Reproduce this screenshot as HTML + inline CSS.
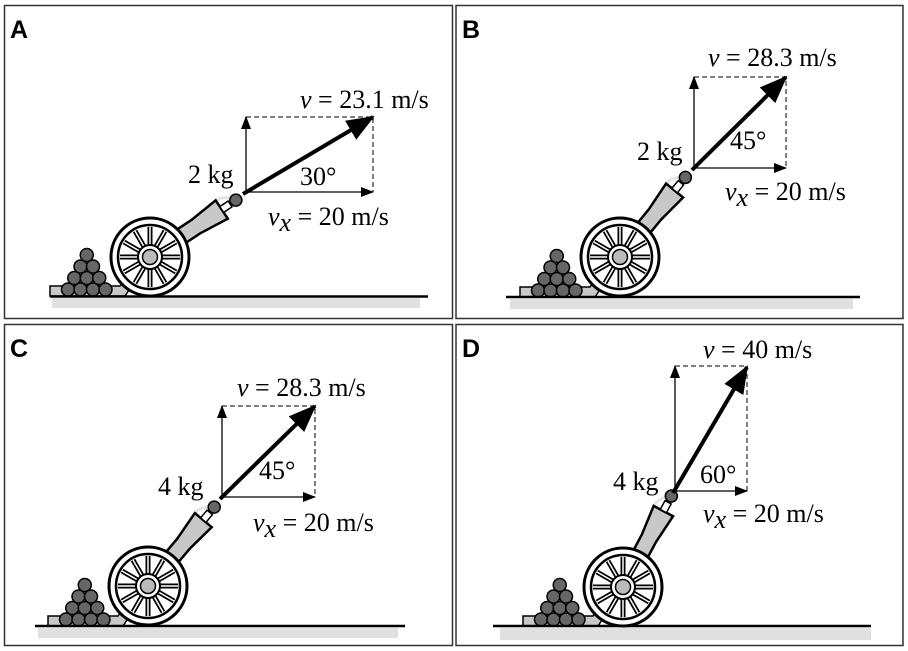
<!DOCTYPE html>
<html><head><meta charset="utf-8"><style>
html,body{margin:0;padding:0;background:#fff;}
svg{display:block;}
.t{font-family:"Liberation Serif",serif;font-size:26px;fill:#000;}
.L{font-family:"Liberation Sans",sans-serif;font-size:25px;font-weight:bold;fill:#000;}
</style></head><body>
<svg width="908" height="651" viewBox="0 0 908 651" xmlns="http://www.w3.org/2000/svg">
<defs>
<marker id="ah" markerWidth="13" markerHeight="10" refX="12" refY="5" orient="auto" markerUnits="userSpaceOnUse">
<path d="M0,0 L13,5 L0,10 Z" fill="#000"/></marker>
<marker id="bh" markerWidth="28" markerHeight="22" refX="26" refY="11" orient="auto" markerUnits="userSpaceOnUse">
<path d="M0,0 L28,11 L0,22 Z" fill="#000"/></marker>
<g id="barrel">
<path d="M-18,-6 C-13,-16 -3,-7 0,-4" fill="none" stroke="#e4e4e4" stroke-width="3" transform="translate(100,0)"/>
<path d="M-30,-8 L55,-8 L86,-11 L86,11 L55,8 L-30,8 Z" fill="#c8c8c8" stroke="#000" stroke-width="2.5"/>
<rect x="86" y="-3.5" width="10" height="7" fill="#fff" stroke="#000" stroke-width="1.5"/>
<circle cx="103" cy="0" r="6" fill="#666" stroke="#000" stroke-width="1.5"/>
</g>
<g id="wheel">
<circle r="39" fill="#fff" stroke="#000" stroke-width="3"/>
<circle r="32" fill="#fff" stroke="#000" stroke-width="2.5"/>
<g stroke="#000" stroke-width="5">
<line x1="-30" y1="0" x2="30" y2="0"/><line x1="0" y1="-30" x2="0" y2="30"/>
<line x1="-26" y1="-15" x2="26" y2="15"/><line x1="-26" y1="15" x2="26" y2="-15"/>
<line x1="-15" y1="-26" x2="15" y2="26"/><line x1="-15" y1="26" x2="15" y2="-26"/>
</g>
<g stroke="#fff" stroke-width="1.5">
<line x1="-30" y1="0" x2="30" y2="0"/><line x1="0" y1="-30" x2="0" y2="30"/>
<line x1="-26" y1="-15" x2="26" y2="15"/><line x1="-26" y1="15" x2="26" y2="-15"/>
<line x1="-15" y1="-26" x2="15" y2="26"/><line x1="-15" y1="26" x2="15" y2="-26"/>
</g>
<circle r="12" fill="#fff" stroke="#000" stroke-width="2"/>
<circle r="7.5" fill="#bbb" stroke="#000" stroke-width="1.5"/>
</g>
<g id="pile">
<path d="M-100,-10 L-70,-10 L-30,-10 L-10,-40 L-5,-30 L-25,0 L-100,0 Z" fill="#c8c8c8" stroke="#000" stroke-width="1.5"/>
<g fill="#666" stroke="#000" stroke-width="1.5">
<circle cx="-82" cy="-6.5" r="6.5"/><circle cx="-69.5" cy="-6.5" r="6.5"/><circle cx="-57" cy="-6.5" r="6.5"/><circle cx="-44.5" cy="-6.5" r="6.5"/>
<circle cx="-75.75" cy="-18" r="6.5"/><circle cx="-63.25" cy="-18" r="6.5"/><circle cx="-50.75" cy="-18" r="6.5"/>
<circle cx="-69.5" cy="-29.5" r="6.5"/><circle cx="-57" cy="-29.5" r="6.5"/>
<circle cx="-63.25" cy="-41" r="6.5"/>
</g>
</g>
</defs>

<g fill="none" stroke="#333" stroke-width="1.5">
<rect x="4.5" y="5.5" width="448" height="313"/>
<rect x="456" y="5.5" width="447" height="313"/>
<rect x="4.5" y="324.5" width="448" height="321"/>
<rect x="456" y="324.5" width="447" height="321"/>
</g>
<text class="L" x="10" y="38">A</text>
<text class="L" x="462" y="38">B</text>
<text class="L" x="10" y="357">C</text>
<text class="L" x="462" y="357">D</text>

<!-- Panel A -->
<rect x="52" y="298" width="368" height="10" fill="#e0e0e0"/>
<use href="#pile" transform="translate(150,296)"/>
<use href="#barrel" transform="translate(150,257) rotate(-33.5)"/>
<use href="#wheel" transform="translate(150,257)"/>
<line x1="50" y1="296.5" x2="428" y2="296.5" stroke="#000" stroke-width="2.5"/>
<path d="M246,117 L373,117 L373,192" fill="none" stroke="#000" stroke-width="1" stroke-dasharray="5,3"/>
<line x1="246" y1="192" x2="246" y2="117" stroke="#000" stroke-width="1.3" marker-end="url(#ah)"/>
<line x1="246" y1="192" x2="373" y2="192" stroke="#000" stroke-width="1.3" marker-end="url(#ah)"/>
<line x1="243" y1="194" x2="373" y2="117" stroke="#000" stroke-width="4" marker-end="url(#bh)"/>
<text class="t" x="300" y="108"><tspan font-style="italic">v</tspan> = 23.1 m/s</text>
<text class="t" x="188" y="183">2 kg</text>
<text class="t" x="300" y="185">30°</text>
<text class="t" x="268" y="225"><tspan font-style="italic">v</tspan><tspan font-style="italic" dy="6">x</tspan><tspan dy="-6"> = 20 m/s</tspan></text>

<!-- Panel B -->
<rect x="510" y="299" width="343" height="10" fill="#e0e0e0"/>
<use href="#pile" transform="translate(620,297)"/>
<use href="#barrel" transform="translate(620,257) rotate(-50.6)"/>
<use href="#wheel" transform="translate(620,257)"/>
<line x1="506" y1="297" x2="860" y2="297" stroke="#000" stroke-width="2.5"/>
<path d="M694,77 L786,77 L786,168" fill="none" stroke="#000" stroke-width="1" stroke-dasharray="5,3"/>
<line x1="694" y1="168" x2="694" y2="77" stroke="#000" stroke-width="1.3" marker-end="url(#ah)"/>
<line x1="694" y1="168" x2="786" y2="168" stroke="#000" stroke-width="1.3" marker-end="url(#ah)"/>
<line x1="692" y1="170" x2="786" y2="77" stroke="#000" stroke-width="4" marker-end="url(#bh)"/>
<text class="t" x="708" y="66"><tspan font-style="italic">v</tspan> = 28.3 m/s</text>
<text class="t" x="637" y="160">2 kg</text>
<text class="t" x="730" y="149">45°</text>
<text class="t" x="725" y="200"><tspan font-style="italic">v</tspan><tspan font-style="italic" dy="6">x</tspan><tspan dy="-6"> = 20 m/s</tspan></text>

<!-- Panel C -->
<rect x="38" y="628" width="360" height="10" fill="#e0e0e0"/>
<use href="#pile" transform="translate(148,626)"/>
<use href="#barrel" transform="translate(148,586) rotate(-50)"/>
<use href="#wheel" transform="translate(148,586)"/>
<line x1="35" y1="626" x2="405" y2="626" stroke="#000" stroke-width="2.5"/>
<path d="M222,406 L315,406 L315,497" fill="none" stroke="#000" stroke-width="1" stroke-dasharray="5,3"/>
<line x1="222" y1="497" x2="222" y2="406" stroke="#000" stroke-width="1.3" marker-end="url(#ah)"/>
<line x1="222" y1="497" x2="315" y2="497" stroke="#000" stroke-width="1.3" marker-end="url(#ah)"/>
<line x1="220" y1="499" x2="315" y2="406" stroke="#000" stroke-width="4" marker-end="url(#bh)"/>
<text class="t" x="237" y="396"><tspan font-style="italic">v</tspan> = 28.3 m/s</text>
<text class="t" x="158" y="495">4 kg</text>
<text class="t" x="259" y="479">45°</text>
<text class="t" x="253" y="531"><tspan font-style="italic">v</tspan><tspan font-style="italic" dy="6">x</tspan><tspan dy="-6"> = 20 m/s</tspan></text>

<!-- Panel D -->
<rect x="500" y="628" width="371" height="12" fill="#e0e0e0"/>
<use href="#pile" transform="translate(623,626)"/>
<use href="#barrel" transform="translate(623,587) rotate(-62)"/>
<use href="#wheel" transform="translate(623,587)"/>
<line x1="493" y1="626" x2="871" y2="626" stroke="#000" stroke-width="2.5"/>
<path d="M675,366 L747,366 L747,491" fill="none" stroke="#000" stroke-width="1" stroke-dasharray="5,3"/>
<line x1="675" y1="491" x2="675" y2="366" stroke="#000" stroke-width="1.3" marker-end="url(#ah)"/>
<line x1="675" y1="491" x2="747" y2="491" stroke="#000" stroke-width="1.3" marker-end="url(#ah)"/>
<line x1="673" y1="493" x2="747" y2="367" stroke="#000" stroke-width="4" marker-end="url(#bh)"/>
<text class="t" x="703" y="358"><tspan font-style="italic">v</tspan> = 40 m/s</text>
<text class="t" x="613" y="490">4 kg</text>
<text class="t" x="700" y="483">60°</text>
<text class="t" x="703" y="522"><tspan font-style="italic">v</tspan><tspan font-style="italic" dy="6">x</tspan><tspan dy="-6"> = 20 m/s</tspan></text>
</svg>
</body></html>
